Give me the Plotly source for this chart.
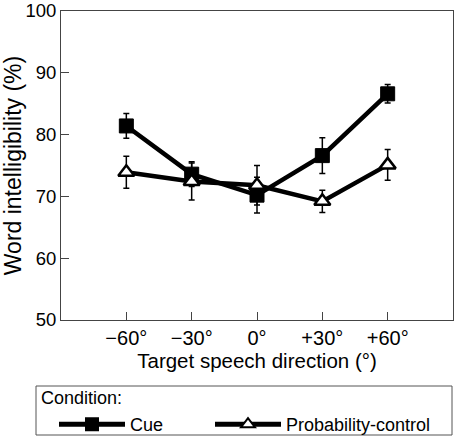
import plotly.graph_objects as go

directions = [-60, -30, 0, 30, 60]
tick_labels = ["\u221260\u00b0", "\u221230\u00b0", "0\u00b0", "+30\u00b0", "+60\u00b0"]
cue = [81.4, 73.6, 70.2, 76.6, 86.6]
cue_err = [2.0, 2.0, 2.9, 2.9, 1.5]
prob = [73.9, 72.4, 71.8, 69.2, 75.1]
prob_err = [2.6, 3.0, 3.2, 1.8, 2.5]

FONT = "Liberation Sans, Arial, Helvetica, sans-serif"

# plot area in pixels (for converting legend decoration positions)
L, R, T, B, W, H = 61, 7, 11, 126, 460, 446
PW, PH = W - L - R, H - T - B


def px(xp):
    return (xp - L) / PW


def py(yp):
    return (H - B - yp) / PH


fig = go.Figure()
fig.add_trace(go.Scatter(
    x=directions, y=cue, name="Cue", mode="lines+markers",
    line=dict(color="black", width=4.5),
    marker=dict(symbol="square", size=14, color="black", line=dict(color="black", width=1)),
    error_y=dict(type="data", array=cue_err, visible=True, color="black", thickness=1.5, width=3),
    legend="legend",
))
fig.add_trace(go.Scatter(
    x=directions, y=prob, name="Probability-control", mode="lines+markers",
    line=dict(color="black", width=4.5),
    marker=dict(symbol="triangle-up", size=14, color="white", line=dict(color="black", width=2.5)),
    error_y=dict(type="data", array=prob_err, visible=True, color="black", thickness=1.5, width=3),
    legend="legend2",
))

leg_common = dict(
    orientation="h", xanchor="left", yanchor="top",
    font=dict(family=FONT, size=18, color="black"), borderwidth=0, bgcolor="rgba(0,0,0,0)",
    itemwidth=66, itemsizing="constant",
)

fig.update_layout(
    width=W, height=H,
    margin=dict(l=L, r=R, t=T, b=B, autoexpand=False),
    paper_bgcolor="white", plot_bgcolor="white",
    font=dict(family=FONT, color="black", size=18),
    showlegend=True,
    legend=dict(x=px(54), y=py(406), **leg_common),
    legend2=dict(x=px(210), y=py(406), **leg_common),
    shapes=[dict(
        type="rect", xref="paper", yref="paper",
        x0=px(36), x1=px(452), y0=py(386), y1=py(435),
        line=dict(color="#555", width=1), fillcolor="rgba(0,0,0,0)", layer="below",
    )],
    annotations=[dict(
        text="Condition:", xref="paper", yref="paper",
        x=px(39), y=py(398), xanchor="left", yanchor="middle",
        showarrow=False, font=dict(family=FONT, size=18, color="black"),
    )],
)
fig.update_xaxes(
    range=[-90, 90], tickvals=directions, ticktext=tick_labels,
    showline=True, linecolor="#444", linewidth=1, mirror=True,
    ticks="inside", ticklen=8, tickcolor="#444", showgrid=False, zeroline=False,
    title=dict(text="Target speech direction (\u00b0)", standoff=3,
               font=dict(family=FONT, size=20.5, color="black")),
    tickfont=dict(family=FONT, size=20, color="black"),
)
fig.update_yaxes(
    range=[50, 100], tickvals=[50, 60, 70, 80, 90, 100],
    showline=True, linecolor="#444", linewidth=1, mirror=True,
    ticks="inside", ticklen=8, tickcolor="#444", showgrid=False, zeroline=False,
    title=dict(text="Word intelligibility (%)", standoff=2,
               font=dict(family=FONT, size=23, color="black")),
    tickfont=dict(family=FONT, size=18.5, color="black"),
)

fig.write_html("out.html")
